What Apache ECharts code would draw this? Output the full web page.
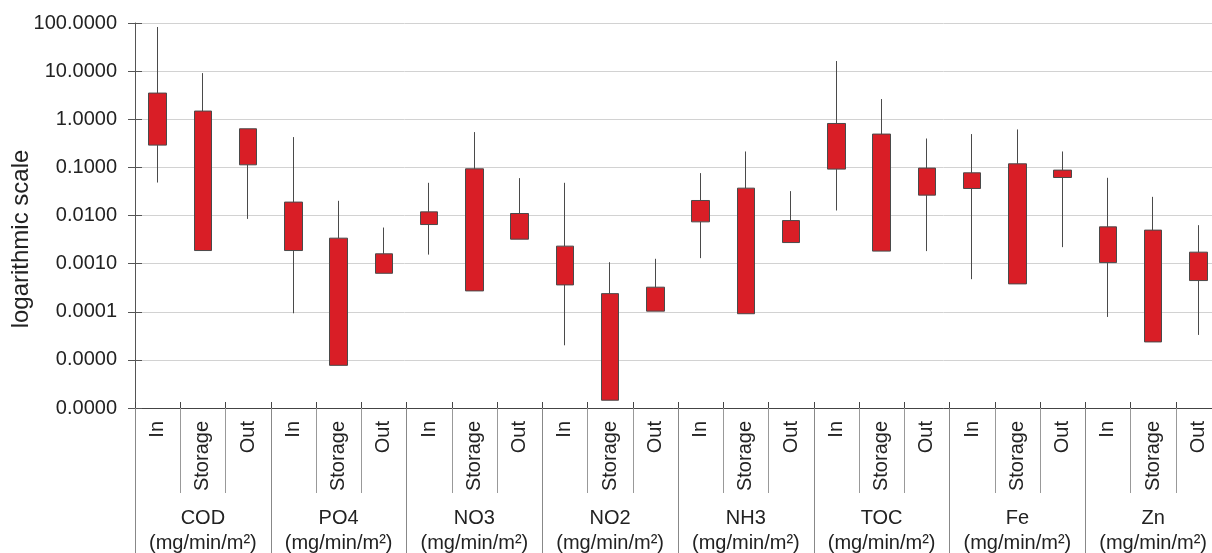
<!DOCTYPE html>
<html>
<head>
<meta charset="utf-8">
<script src="https://cdn.jsdelivr.net/npm/echarts@6/dist/echarts.min.js"></script>
<style>
html,body{margin:0;padding:0;background:#fff;}
#chart{width:1212px;height:553px;}
</style>
</head>
<body>
<div id="chart"></div>
<script>
const categories = ['In','Storage','Out','In','Storage','Out','In','Storage','Out','In','Storage','Out',
                    'In','Storage','Out','In','Storage','Out','In','Storage','Out','In','Storage','Out'];
const groups = ['COD','PO4','NO3','NO2','NH3','TOC','Fe','Zn'];
const unit = '(mg/min/m²)';
const yTicks = [1e-6,1e-5,1e-4,1e-3,1e-2,1e-1,1,10,100];

const whiskerHigh = [82.6, 9.1, 0.634, 0.426, 0.0202, 0.00562, 0.0478, 0.541, 0.0598, 0.0478, 0.00107, 0.00126,
                     0.076, 0.214, 0.0321, 16.2, 2.63, 0.398, 0.492, 0.614, 0.214, 0.0607, 0.0244, 0.0063];
const boxHigh     = [3.5, 1.48, 0.634, 0.019, 0.00338, 0.0016, 0.0119, 0.0933, 0.011, 0.00231, 0.000238, 0.000324,
                     0.0205, 0.037, 0.00785, 0.817, 0.492, 0.0966, 0.0771, 0.1186, 0.0877, 0.00581, 0.00497, 0.00173];
const boxLow      = [0.29, 0.00187, 0.113, 0.00187, 7.7e-6, 0.00063, 0.00649, 0.000271, 0.00322, 0.000361, 1.45e-6, 0.000103,
                     0.00738, 9.1e-5, 0.00274, 0.092, 0.00182, 0.0265, 0.0364, 0.000379, 0.0616, 0.00105, 2.36e-5, 0.000445];
const whiskerLow  = [0.0484, 0.00187, 0.0085, 9.3e-5, 7.7e-6, 0.00063, 0.00154, 0.000271, 0.00322, 2.01e-5, 1.45e-6, 0.000103,
                     0.0013, 9.1e-5, 0.00274, 0.0127, 0.00182, 0.00182, 0.000475, 0.000379, 0.0022, 7.8e-5, 2.36e-5, 3.3e-5];

const candleData = categories.map((c, i) => [boxLow[i], boxHigh[i], whiskerLow[i], whiskerHigh[i]]);
const groupLabels = groups.map(g => g + '\n' + unit);

const FONT = '"Liberation Sans", Arial, sans-serif';
const chart = echarts.init(document.getElementById('chart'), null, {renderer: 'canvas'});

const logAxisBase = {
  type: 'log', logBase: 10, min: yTicks[0], max: yTicks[yTicks.length - 1],
  splitNumber: 8, position: 'left', offset: 0
};

chart.setOption({
  animation: false,
  backgroundColor: '#fff',
  grid: {left: 135, top: 23, width: 1086, height: 385, containLabel: false, outerBoundsMode: 'none'},
  graphic: [{
    type: 'text', x: 21, y: 239, rotation: Math.PI / 2,
    style: {text: 'logarithmic scale', font: '24px ' + FONT, fill: '#222', align: 'center', verticalAlign: 'middle'}
  }],
  xAxis: [
    {
      type: 'category', data: categories, position: 'bottom', offset: 0, boundaryGap: true,
      axisLine: {show: true, lineStyle: {color: '#444', width: 1}},
      axisTick: {show: true, interval: 0, inside: false, length: 85, lineStyle: {color: '#999', width: 1}},
      axisLabel: {show: true, interval: 0, rotate: 90, margin: 13, fontSize: 20, fontFamily: FONT, color: '#222'},
      splitLine: {show: false}
    },
    {
      type: 'category', data: groupLabels, position: 'bottom', offset: 0, boundaryGap: true,
      axisLine: {show: false},
      axisTick: {show: true, interval: 0, inside: false, length: 145, lineStyle: {color: '#888', width: 1}},
      axisLabel: {show: true, interval: 0, margin: 98, fontSize: 20, lineHeight: 25, fontFamily: FONT, color: '#222', align: 'center'},
      splitLine: {show: false}
    },
    {
      type: 'category', data: categories, position: 'bottom', offset: 0, boundaryGap: true,
      axisLine: {show: false},
      axisTick: {show: true, interval: 0, inside: true, length: 6, lineStyle: {color: '#444', width: 1}},
      axisLabel: {show: false},
      splitLine: {show: false}
    }
  ],
  yAxis: [
    Object.assign({}, logAxisBase, {
      axisLine: {show: true, lineStyle: {color: '#555', width: 1}},
      axisTick: {show: true, inside: false, length: 7, lineStyle: {color: '#555'}},
      axisLabel: {show: true, margin: 18, fontSize: 20, fontFamily: FONT, color: '#222',
                  formatter: v => Number(v).toFixed(4)},
      splitLine: {show: true, lineStyle: {color: '#d2d2d2', width: 1}}
    }),
    Object.assign({}, logAxisBase, {
      axisLine: {show: false},
      axisTick: {show: true, inside: true, length: 7, lineStyle: {color: '#555'}},
      axisLabel: {show: false},
      splitLine: {show: false}
    })
  ],
  series: [{
    type: 'candlestick', xAxisIndex: 0, yAxisIndex: 0,
    data: candleData, barWidth: 18,
    itemStyle: {color: '#d91e26', color0: '#d91e26', borderColor: '#4a4a4a', borderColor0: '#4a4a4a', borderWidth: 1}
  }]
});
</script>
</body>
</html>
